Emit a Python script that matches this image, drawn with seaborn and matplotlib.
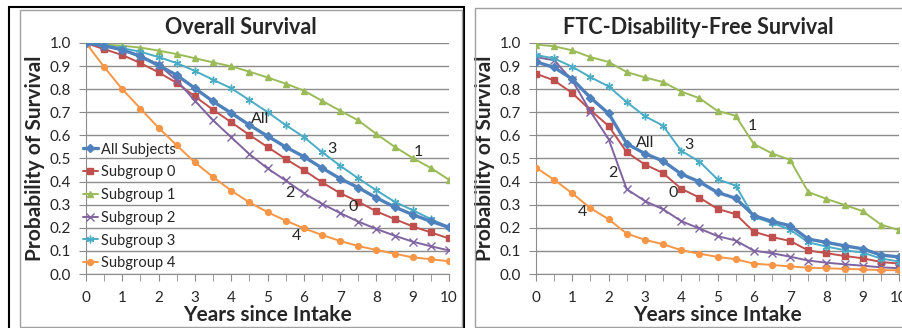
import pandas as pd
import seaborn as sns
import matplotlib.pyplot as plt
from matplotlib.patches import Rectangle
from matplotlib.ticker import MultipleLocator

years = [0, 0.5, 1, 1.5, 2, 2.5, 3, 3.5, 4, 4.5, 5, 5.5, 6, 6.5, 7, 7.5, 8, 8.5, 9, 9.5, 10]

# Overall survival
os_all = [1.0, 0.988, 0.971, 0.942, 0.903, 0.861, 0.804, 0.747, 0.697, 0.645, 0.597,
          0.55, 0.508, 0.459, 0.413, 0.374, 0.33, 0.29, 0.257, 0.228, 0.202]
os_g0 = [1.0, 0.973, 0.948, 0.913, 0.873, 0.827, 0.769, 0.711, 0.657, 0.602, 0.55,
         0.498, 0.45, 0.397, 0.35, 0.313, 0.271, 0.238, 0.206, 0.18, 0.154]
os_g1 = [1.0, 0.993, 0.988, 0.98, 0.967, 0.952, 0.934, 0.916, 0.899, 0.876, 0.851,
         0.824, 0.794, 0.75, 0.707, 0.665, 0.606, 0.551, 0.502, 0.459, 0.408]
os_g2 = [1.0, 0.987, 0.968, 0.945, 0.906, 0.838, 0.75, 0.665, 0.592, 0.519, 0.457,
         0.405, 0.35, 0.304, 0.264, 0.227, 0.195, 0.166, 0.14, 0.12, 0.102]
os_g3 = [1.0, 0.99, 0.978, 0.962, 0.939, 0.913, 0.879, 0.841, 0.804, 0.753, 0.701,
         0.645, 0.593, 0.528, 0.469, 0.414, 0.362, 0.313, 0.276, 0.238, 0.203]
os_g4 = [1.0, 0.896, 0.80, 0.716, 0.633, 0.557, 0.483, 0.42, 0.361, 0.31, 0.268,
         0.231, 0.198, 0.169, 0.143, 0.121, 0.104, 0.088, 0.072, 0.064, 0.055]

# FTC-disability-free survival
df_all = [0.919, 0.894, 0.844, 0.763, 0.695, 0.564, 0.521, 0.489, 0.433, 0.399, 0.353,
          0.328, 0.253, 0.228, 0.209, 0.151, 0.137, 0.122, 0.109, 0.082, 0.074]
df_g0 = [0.867, 0.838, 0.783, 0.709, 0.641, 0.527, 0.474, 0.437, 0.369, 0.331, 0.282,
         0.259, 0.183, 0.16, 0.143, 0.102, 0.09, 0.078, 0.068, 0.052, 0.045]
df_g1 = [0.993, 0.986, 0.968, 0.939, 0.918, 0.874, 0.851, 0.831, 0.79, 0.761, 0.706,
         0.685, 0.563, 0.522, 0.494, 0.355, 0.325, 0.299, 0.272, 0.214, 0.19]
df_g2 = [0.939, 0.925, 0.838, 0.703, 0.584, 0.367, 0.316, 0.28, 0.229, 0.197, 0.164,
         0.145, 0.101, 0.09, 0.075, 0.058, 0.049, 0.042, 0.036, 0.029, 0.025]
df_g3 = [0.948, 0.933, 0.897, 0.852, 0.812, 0.744, 0.683, 0.642, 0.533, 0.487, 0.41,
         0.383, 0.247, 0.221, 0.192, 0.137, 0.119, 0.103, 0.093, 0.067, 0.054]
df_g4 = [0.46, 0.408, 0.349, 0.285, 0.237, 0.175, 0.148, 0.129, 0.103, 0.088, 0.074,
         0.064, 0.045, 0.039, 0.033, 0.027, 0.025, 0.022, 0.02, 0.017, 0.016]

names = ["All Subjects", "Subgroup 0", "Subgroup 1", "Subgroup 2", "Subgroup 3", "Subgroup 4"]
colors = ["#4F81BD", "#C0504D", "#9BBB59", "#8064A2", "#4BACC6", "#F79646"]
markers = ["D", "s", "^", "x", (6, 2, 0), "o"]

# curve labels (text, x, y)
os_notes = [("All", 4.79, 0.67), ("3", 6.78, 0.54), ("1", 9.15, 0.53),
            ("2", 5.62, 0.35), ("0", 7.36, 0.29), ("4", 5.79, 0.165)]
df_notes = [("All", 3.02, 0.567), ("3", 4.2, 0.558), ("1", 5.96, 0.64),
            ("2", 2.12, 0.437), ("0", 3.79, 0.35), ("4", 1.27, 0.268)]

sns.set_style("white")
plt.rcParams['font.family'] = ['Lato', 'DejaVu Sans']

W, H = 903, 328
fig = plt.figure(figsize=(W / 100, H / 100), dpi=100)


def box(x0, y0, x1, y1, color, lw):
    fig.add_artist(Rectangle((x0 / W, 1 - y1 / H), (x1 - x0) / W, (y1 - y0) / H,
                             transform=fig.transFigure, fill=False, ec=color, lw=lw))


box(9, 7, 464, 340, "black", 1.5)
box(20, 10, 462, 327, "#A0A0A0", 1.0)
box(475, 8, 930, 327, "#A0A0A0", 1.0)


def panel(left_px, series, title, title_x, notes, legend):
    ax = fig.add_axes([left_px / W, 1 - 274 / H, 363 / W, 231 / H])
    data = pd.DataFrame({"Years": years})
    for i, (nm, vals) in enumerate(zip(names, series)):
        data[nm] = vals
        lw = 2.4 if i == 0 else 1.4
        ms = 5.5 if i in (3, 4) else 4.2
        sns.lineplot(data=data, x="Years", y=nm, ax=ax, color=colors[i], lw=lw,
                     marker=markers[i], markersize=ms, markeredgecolor=colors[i],
                     markeredgewidth=1.0, label=nm, legend=False, zorder=3 + (i == 0))
    ax.set_xlim(0, 10)
    ax.set_ylim(0, 1.0)
    ax.xaxis.set_major_locator(MultipleLocator(1))
    ax.xaxis.set_minor_locator(MultipleLocator(0.5))
    ax.yaxis.set_major_locator(MultipleLocator(0.1))
    ax.set_yticklabels([f"{v:.1f}" for v in ax.get_yticks()])
    ax.grid(axis="y", color="#8C8C8C", lw=1.0)
    for s in ("top", "right"):
        ax.spines[s].set_visible(False)
    for s in ("left", "bottom"):
        ax.spines[s].set_color("#8C8C8C")
    ax.tick_params(which="both", direction="out", length=5, color="#8C8C8C",
                   left=True, bottom=True, labelsize=11, pad=6)
    ax.tick_params(axis="x", pad=7)
    ax.set_xlabel("Years since Intake", fontsize=15, fontweight="bold", labelpad=0)
    ax.set_ylabel("Probability of Survival", fontsize=15, fontweight="bold", labelpad=3)
    for t, x, y in notes:
        ax.text(x, y, t, fontsize=11.5, ha="center", va="center", zorder=6)
    fig.text(title_x / W, 1 - 28 / H, title, fontsize=15.5, fontweight="bold",
             ha="center", va="center")
    if legend:
        ax.legend(loc="lower left", bbox_to_anchor=(-0.008, 0.016), frameon=False,
                  fontsize=10.5, handlelength=1.0, handletextpad=0.2, labelspacing=0.6,
                  borderaxespad=0, borderpad=0)
    return ax


panel(86, [os_all, os_g0, os_g1, os_g2, os_g3, os_g4], "Overall Survival", 241, os_notes, True)
panel(536, [df_all, df_g0, df_g1, df_g2, df_g3, df_g4], "FTC-Disability-Free Survival", 698,
      df_notes, False)

fig.savefig("out.png", dpi=100)
